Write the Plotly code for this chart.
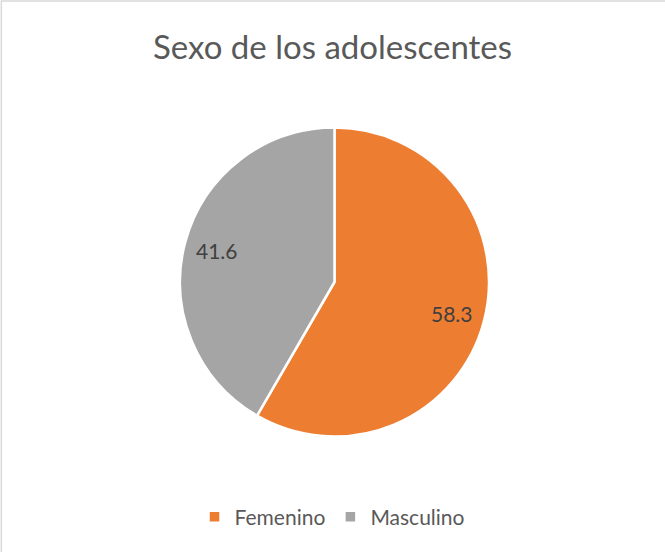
import math
import plotly.graph_objects as go

categories = ["Femenino", "Masculino"]
values = [58.3, 41.6]
colors = ["#ED7D31", "#A5A5A5"]
title_text = "Sexo de los adolescentes"

W, H = 665, 552
cx, cy, r = 334.5, 282.0, 154.5
FONT = "Lato, Open Sans, sans-serif"

fig = go.Figure(go.Pie(
    labels=categories,
    values=values,
    textinfo="none",
    marker=dict(colors=colors, line=dict(color="white", width=2.5)),
    sort=False,
    direction="clockwise",
    rotation=0,
    hoverinfo="label+value",
    domain=dict(x=[(cx - r) / W, (cx + r) / W], y=[1 - (cy + r) / H, 1 - (cy - r) / H]),
))

# data labels placed at each slice's mid-angle
total = sum(values)
annotations = []
acc = 0.0
for v in values:
    mid = (acc + v / 2) / total * 2 * math.pi
    acc += v
    px = cx + 0.79 * r * math.sin(mid)
    py = cy - 0.79 * r * math.cos(mid)
    annotations.append(dict(x=px / W, y=1 - py / H, xref="paper", yref="paper",
                            xanchor="center", yanchor="middle",
                            text=f"{v:.1f}", showarrow=False,
                            font=dict(family=FONT, size=21, color="#404040")))

fig.update_layout(
    width=W, height=H,
    margin=dict(l=0, r=0, t=0, b=0),
    paper_bgcolor="white",
    title=dict(text=title_text, x=0.5, xanchor="center", y=1 - 47 / H, yanchor="middle",
               font=dict(family=FONT, size=33, color="#595959")),
    legend=dict(orientation="h", x=0.5, xanchor="center", y=1 - 517 / H, yanchor="middle",
                font=dict(family=FONT, size=21, color="#595959"),
                traceorder="normal"),
    annotations=annotations,
    shapes=[dict(type="rect", xref="paper", yref="paper", x0=0.002, y0=-0.1, x1=1.2, y1=0.998,
                 line=dict(color="#D9D9D9", width=1.5))],
)

fig.write_html("out.html", config={"displayModeBar": False},
               post_script="document.body.style.margin='0';document.body.style.overflow='hidden';")
